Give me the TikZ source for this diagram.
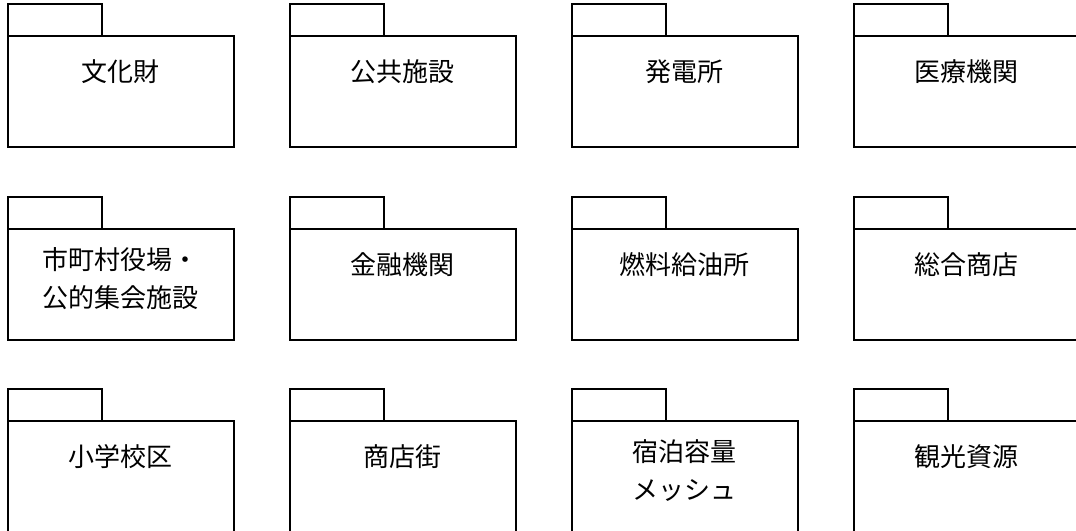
\documentclass[tikz,border=0pt]{standalone}
\usepackage{fontspec}
\newfontfamily\jpfont{Noto Sans CJK JP}
\usetikzlibrary{positioning}

\tikzset{
    pkgbody/.style={draw, line width=2pt, minimum width=226pt, minimum height=111pt, inner sep=0pt, outer sep=0pt, anchor=north west},
    pkgtab/.style={draw, line width=2pt, minimum width=94pt, minimum height=32pt, inner sep=0pt, outer sep=0pt, anchor=south west},
    pkgtext/.style={font=\jpfont\fontsize{26}{38}\selectfont, align=center, inner sep=0pt}
}

\begin{document}
\begin{tikzpicture}[x=1pt,y=1pt]
    \useasboundingbox (0,0) rectangle (1076,-530);

    % one package per entry: name / column / row / text offset below the body top / label
    \foreach \name/\col/\row/\dy/\txt in {
        bunkazai/0/0/36/{文化財},
        koukyou/1/0/36/{公共施設},
        hatsuden/2/0/36/{発電所},
        iryou/3/0/36/{医療機関},
        yakuba/0/1/50/{市町村役場・\\公的集会施設},
        kinyuu/1/1/36/{金融機関},
        kyuyu/2/1/36/{燃料給油所},
        shouten/3/1/36/{総合商店},
        gakku/0/2/36/{小学校区},
        shoutengai/1/2/36/{商店街},
        shukuhaku/2/2/50/{宿泊容量\\メッシュ},
        kankou/3/2/36/{観光資源}}
    {
        \node[pkgbody] (\name) at (7.5+282*\col, -36-192.5*\row) {};
        \node[pkgtab] (\name-tab) at (\name.north west) {};              % tab on top of the body
        \node[pkgtext] (\name-label) at ([yshift=-\dy pt]\name.north) {\txt};
    }
\end{tikzpicture}
\end{document}
